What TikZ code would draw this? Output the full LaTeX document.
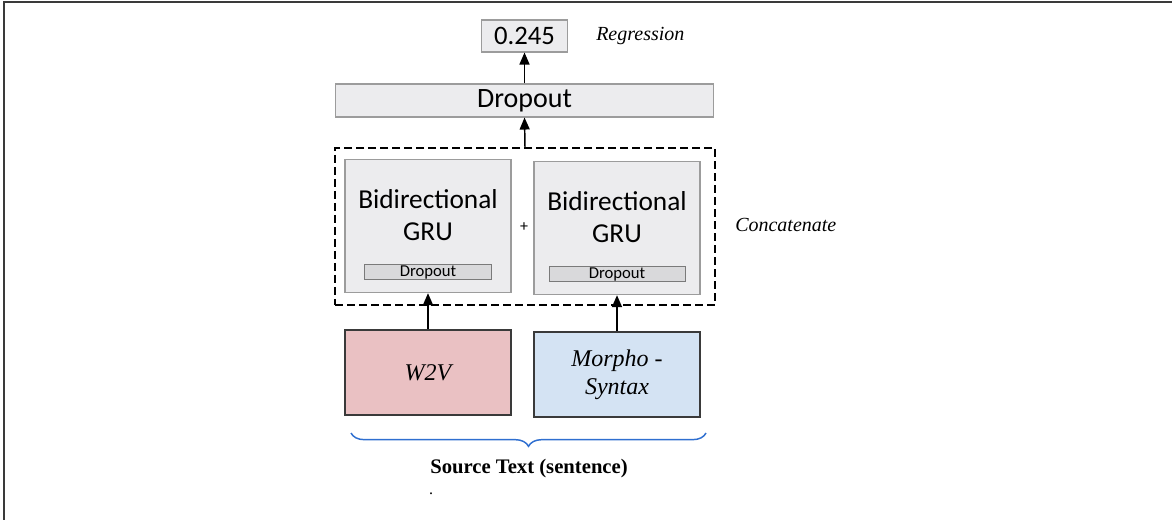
\documentclass[tikz,border=0pt]{standalone}
\usepackage{fontspec}
\setmainfont{Liberation Serif}
\setsansfont{Carlito}
\usetikzlibrary{arrows.meta,decorations.pathreplacing}

\definecolor{boxgray}{HTML}{ECECEE}
\definecolor{edgegray}{HTML}{9C9C9C}
\definecolor{stripgray}{HTML}{D9D9DB}
\definecolor{stripedge}{HTML}{7A7A7A}
\definecolor{wvred}{HTML}{EAC1C3}
\definecolor{morphoblue}{HTML}{D4E3F3}
\definecolor{braceblue}{HTML}{2F6FD0}
\definecolor{framegray}{HTML}{3A3A3A}

\tikzset{
  graybox/.style={draw=edgegray, fill=boxgray, line width=0.8pt, inner sep=0pt},
  strip/.style={draw=stripedge, fill=stripgray, line width=0.7pt, inner sep=0pt,
    minimum height=11pt, font=\sffamily\fontsize{12.5pt}{13pt}\selectfont},
  inputbox/.style={draw=framegray, line width=1.1pt, inner sep=0pt,
    minimum width=124.5pt, minimum height=64pt, align=center,
    font=\itshape\fontsize{18pt}{21pt}\selectfont},
  note/.style={font=\itshape\fontsize{15pt}{18pt}\selectfont, inner sep=0pt},
  uparrow/.style={-{Triangle[length=9pt,width=7.5pt]}, line width=1.1pt},
  bracedown/.style={draw=braceblue, line width=1.1pt, decorate,
    decoration={brace, mirror, amplitude=10pt}}
}

% one GRU cell: name, centre, width of the inner strip
\newcommand{\grucell}[3]{
  \node [graybox, minimum width=124.5pt, minimum height=100pt] (#1) at #2 {};
  \node [align=center, inner sep=0pt, font=\sffamily\fontsize{20.5pt}{24pt}\selectfont]
    (#1text) at ([yshift=8.5pt]#1.center) {Bidirectional\\GRU};
  \node [strip, minimum width=#3] (#1drop) at ([yshift=-34.5pt]#1.center) {Dropout};
}

\begin{document}
\begin{tikzpicture}[x=0.75pt, y=-0.75pt]
  \useasboundingbox (0,0) rectangle (1172,520);
  \draw [framegray, line width=1.2pt] (4,520) -- (4,2) -- (1172,2);

  \node [graybox, minimum width=65pt, minimum height=24pt,
    font=\sffamily\fontsize{20pt}{24pt}\selectfont] (out) at (524.5,36) {0.245};
  \node [note, anchor=west] (reg) at (596,36) {Regression};

  \node [graybox, minimum width=284pt, minimum height=24.75pt,
    font=\sffamily\fontsize{21pt}{24pt}\selectfont] (drop) at (524.5,100.5) {Dropout};

  \node [draw, dashed, dash pattern=on 6pt off 3pt, line width=1.1pt,
    minimum width=285pt, minimum height=117.75pt, inner sep=0pt] (cat) at (525,226.5) {};
  \node [note, anchor=west] (catlabel) at (735,225) {Concatenate};

  \grucell{gruA}{(428,226)}{95pt}
  \grucell{gruB}{(617,228)}{102pt}
  \node [inner sep=0pt, font=\sffamily\fontsize{12pt}{14pt}\selectfont] (plus) at (524,227) {+};

  \node [inputbox, fill=wvred] (wv) at (428,372.5) {W2V};
  \node [inputbox, fill=morphoblue] (morpho) at (617,374.5) {Morpho -\\Syntax};

  \draw [uparrow] (drop.north) -- (out.south);
  \draw [uparrow] (cat.north) -- (drop.south);
  \draw [uparrow] (wv.north) -- (gruA.south);
  \draw [uparrow] (morpho.north) -- (gruB.south);

  \coordinate (bl) at (351,433);
  \coordinate (br) at (706,433);
  \draw [bracedown] (bl) -- (br);

  \node [font=\bfseries\fontsize{15.5pt}{18pt}\selectfont, inner sep=0pt] (src) at (529,469) {Source Text (sentence)};
  \node [inner sep=0pt, font=\fontsize{12pt}{14pt}\selectfont] (dot) at (431,494) {.};
\end{tikzpicture}
\end{document}
